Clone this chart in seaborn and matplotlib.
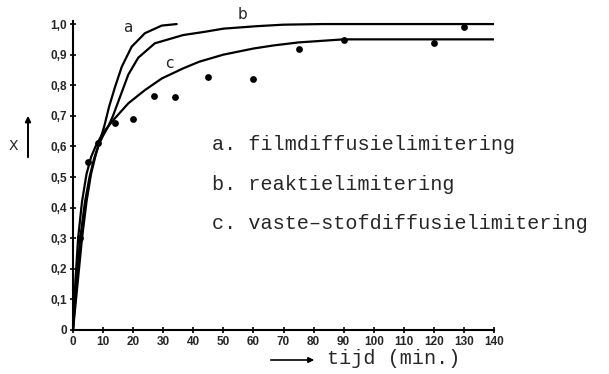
import numpy as np
import pandas as pd
import matplotlib
matplotlib.use("Agg")
import matplotlib.pyplot as plt
import seaborn as sns

# data
t_a = [0, 1.5, 3.0, 4.5, 6, 7.5, 9, 10.5, 12, 14, 16.2, 19.5, 23.9, 29.5, 34.5]
x_a = [0, 0.15, 0.30, 0.42, 0.51, 0.57, 0.62, 0.67, 0.73, 0.795, 0.86, 0.926, 0.97, 0.995, 1.0]

t_b = [0, 1.2, 2.4, 4, 5.5, 7, 8.5, 10, 11.7, 13.3, 15, 18.4, 21.7, 27.2, 36.6, 44, 50, 61, 70, 83, 140]
x_b = [0, 0.16, 0.30, 0.42, 0.50, 0.56, 0.605, 0.635, 0.665, 0.70, 0.745, 0.835, 0.89, 0.937, 0.964, 0.975, 0.985, 0.993, 0.998, 1.0, 1.0]

t_c = [0, 0.8, 1.7, 3, 4.5, 6, 7.5, 10, 13.4, 18.4, 23.9, 29.5, 36.6, 42, 50, 60, 66.6, 75, 90, 140]
x_c = [0, 0.16, 0.30, 0.42, 0.51, 0.565, 0.60, 0.645, 0.686, 0.741, 0.784, 0.822, 0.855, 0.877, 0.90, 0.92, 0.93, 0.94, 0.95, 0.95]

t_meas = [2.3, 5, 8.3, 14, 20, 27, 34, 45, 60, 75, 90, 120, 130]
x_meas = [0.30, 0.55, 0.61, 0.675, 0.69, 0.765, 0.76, 0.827, 0.82, 0.92, 0.948, 0.938, 0.99]

xticks = list(range(0, 141, 10))
yticks = [0, 0.1, 0.2, 0.3, 0.4, 0.5, 0.6, 0.7, 0.8, 0.9, 1.0]
ytick_labels = ["0", "0,1", "0,2", "0,3", "0,4", "0,5", "0,6", "0,7", "0,8", "0,9", "1,0"]
legend_lines = ["a. filmdiffusielimitering", "b. reaktielimitering", "c. vaste\u2013stofdiffusielimitering"]

sns.set_style("ticks")
plt.rcParams["font.family"] = ["DejaVu Sans"]

fig = plt.figure(figsize=(6.09, 3.74), dpi=100)
ax = fig.add_axes([73 / 609, 44 / 374, 421 / 609, 309 / 374])

for t, x in [(t_a, x_a), (t_b, x_b), (t_c, x_c)]:
    sns.lineplot(x=t, y=x, ax=ax, color="black", linewidth=1.6, sort=False,
                 estimator=None)
sns.scatterplot(x=t_meas, y=x_meas, ax=ax, color="black", s=24, edgecolor="black",
                linewidth=0, zorder=5)

ax.set_xlim(0, 140)
ax.set_ylim(0, 1.01)
ax.set_xticks(xticks)
ax.set_xticklabels([str(v) for v in xticks], fontfamily="Liberation Sans",
                   fontweight="bold", fontsize=8.5)
ax.set_yticks(yticks)
ax.set_yticklabels(ytick_labels, fontfamily="Liberation Sans", fontweight="bold",
                   fontsize=8.5)
ax.tick_params(direction="inout", length=4, width=1.2, color="black", pad=2.5)
for s in ["top", "right"]:
    ax.spines[s].set_visible(False)
for s in ["left", "bottom"]:
    ax.spines[s].set_color("black")
    ax.spines[s].set_linewidth(1.5)
ax.set_xlabel("")
ax.set_ylabel("")

# curve labels
ax.text(18.3, 0.99, "a", fontsize=11, ha="center", va="center")
ax.text(56.5, 1.03, "b", fontsize=11, ha="center", va="center")
ax.text(32, 0.87, "c", fontsize=11, ha="center", va="center")

# legend text
for i, s in enumerate(legend_lines):
    fig.text(212 / 609, 1 - (145 + 39 * i) / 374, s, fontfamily="Liberation Mono",
             fontsize=14.5, ha="left", va="center")

# y label with arrow
fig.text(13 / 609, 1 - 146 / 374, "X", fontsize=10, ha="center", va="center")
fig.patches.append(matplotlib.patches.FancyArrowPatch(
    (28 / 609, 1 - 160 / 374), (28 / 609, 1 - 113 / 374), transform=fig.transFigure,
    arrowstyle="-|>", mutation_scale=8, color="black", linewidth=1.4))

# x label with arrow
fig.patches.append(matplotlib.patches.FancyArrowPatch(
    (268 / 609, 1 - 360 / 374), (317 / 609, 1 - 360 / 374), transform=fig.transFigure,
    arrowstyle="-|>", mutation_scale=8, color="black", linewidth=1.2))
fig.text(327 / 609, 1 - 359 / 374, "tijd (min.)", fontfamily="Liberation Mono",
         fontsize=14.5, ha="left", va="center")

fig.savefig("out.png", dpi=100)
